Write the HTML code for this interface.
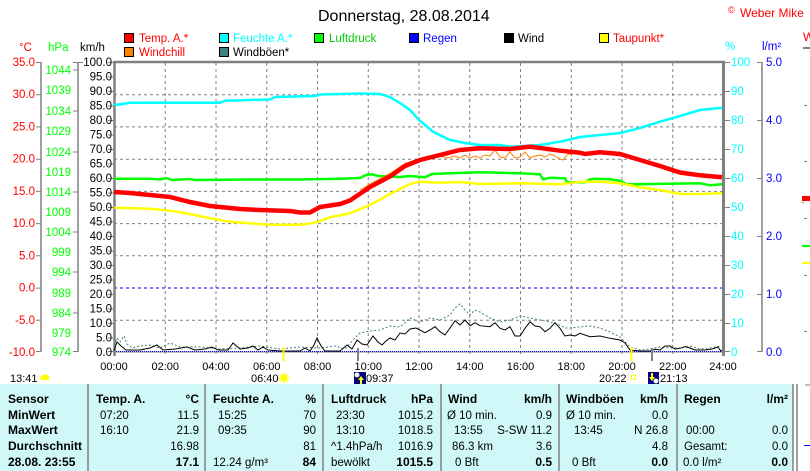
<!DOCTYPE html>
<html><head><meta charset="utf-8">
<style>
html,body{margin:0;padding:0;background:#fff;}
svg{display:block;font-family:"Liberation Sans",Arial,sans-serif;}
</style></head>
<body>
<svg width="810" height="471" viewBox="0 0 810 471" xmlns="http://www.w3.org/2000/svg">
<rect width="810" height="471" fill="#fff"/>
<!-- Title -->
<text x="318" y="21" font-size="16" fill="#000">Donnerstag, 28.08.2014</text>
<text x="728" y="13" font-size="9" fill="#f00">©</text>
<text x="740" y="17" font-size="12" fill="#f00">Weber Mike</text>

<!-- Legend -->
<g font-size="11.5">
<rect x="124.5" y="33.5" width="9" height="9" fill="#f00" stroke="#000"/><text x="139" y="42" fill="#f00">Temp. A.*</text>
<rect x="219.5" y="33.5" width="9" height="9" fill="#0ff" stroke="#000"/><text x="233" y="42" fill="#0ff">Feuchte A.*</text>
<rect x="314.5" y="33.5" width="9" height="9" fill="#0f0" stroke="#000"/><text x="329" y="42" fill="#0c0">Luftdruck</text>
<rect x="409.5" y="33.5" width="9" height="9" fill="#00f" stroke="#000"/><text x="423" y="42" fill="#00f">Regen</text>
<rect x="504.5" y="33.5" width="9" height="9" fill="#000" stroke="#000"/><text x="518" y="42" fill="#000">Wind</text>
<rect x="599.5" y="33.5" width="9" height="9" fill="#ff0" stroke="#000"/><text x="613" y="42" fill="#f00">Taupunkt*</text>
<rect x="124.5" y="47.5" width="9" height="9" fill="#ff8000" stroke="#000"/><text x="139" y="56" fill="#f00">Windchill</text>
<rect x="219.5" y="47.5" width="9" height="9" fill="#408080" stroke="#000"/><text x="233" y="56" fill="#000">Windböen*</text>
</g>

<!-- axis unit labels -->
<g font-size="11.5">
<text x="19" y="51" fill="#f00">°C</text>
<text x="48" y="51" fill="#0f0">hPa</text>
<text x="80" y="51" fill="#000">km/h</text>
<text x="725" y="50" fill="#0ff">%</text>
<text x="762" y="50" fill="#00f">l/m²</text>
</g>

<!-- Left axes -->
<g stroke="#808080" stroke-width="1.5" fill="none">
<line x1="41" y1="62" x2="41" y2="352"/>
<line x1="78" y1="62" x2="78" y2="352"/>
</g>
<g stroke="#808080" stroke-width="1">
<path d="M36 62.5H41M36 94.7H41M36 126.9H41M36 159.2H41M36 191.4H41M36 223.6H41M36 255.8H41M36 288.1H41M36 320.3H41M36 351.5H41"/>
<path d="M73 62.5H83M73 70H78M73 111H78M73 152H78M73 192H78M73 232H78M73 272H78M73 313H78M73 351.5H78"/>
<path d="M108 62.5H114M108 77H114M108 91.5H114M108 106H114M108 120.5H114M108 135H114M108 149.5H114M108 164H114M108 178.5H114M108 193H114M108 207.5H114M108 222H114M108 236.5H114M108 251H114M108 265.5H114M108 280H114M108 294.5H114M108 309H114M108 323.5H114M108 338H114M108 351.5H114"/>
</g>
<g font-size="11.5" fill="#f00" text-anchor="end">
<text x="35" y="66">35.0</text><text x="35" y="98.2">30.0</text><text x="35" y="130.4">25.0</text><text x="35" y="162.7">20.0</text><text x="35" y="194.9">15.0</text><text x="35" y="227.1">10.0</text><text x="35" y="259.3">5.0</text><text x="35" y="291.6">0.0</text><text x="35" y="323.8">-5.0</text><text x="35" y="356">-10.0</text>
</g>
<g font-size="11.5" fill="#0f0" text-anchor="end">
<text x="71" y="74">1044</text><text x="71" y="94">1039</text><text x="71" y="115">1034</text><text x="71" y="135">1029</text><text x="71" y="156">1024</text><text x="71" y="176">1019</text><text x="71" y="196">1014</text><text x="71" y="216">1009</text><text x="71" y="236">1004</text><text x="71" y="256">999</text><text x="71" y="276">994</text><text x="71" y="297">989</text><text x="71" y="317">984</text><text x="71" y="337">979</text><text x="71" y="356">974</text>
</g>
<g font-size="11.5" fill="#000" text-anchor="end">
<text x="112" y="66">100.0</text><text x="112" y="80.5">95.0</text><text x="112" y="95">90.0</text><text x="112" y="109.5">85.0</text><text x="112" y="124">80.0</text><text x="112" y="138.5">75.0</text><text x="112" y="153">70.0</text><text x="112" y="167.5">65.0</text><text x="112" y="182">60.0</text><text x="112" y="196.5">55.0</text><text x="112" y="211">50.0</text><text x="112" y="225.5">45.0</text><text x="112" y="240">40.0</text><text x="112" y="254.5">35.0</text><text x="112" y="269">30.0</text><text x="112" y="283.5">25.0</text><text x="112" y="298">20.0</text><text x="112" y="312.5">15.0</text><text x="112" y="327">10.0</text><text x="112" y="341.5">5.0</text><text x="112" y="356">0.0</text>
</g>

<!-- Right axes -->
<g stroke="#808080" stroke-width="1">
<path d="M724 62.5H730M724 91.5H730M724 120.5H730M724 149.5H730M724 178.5H730M724 207.5H730M724 236.5H730M724 265.5H730M724 294.5H730M724 323.5H730M724 351.5H730"/>
<path d="M757 62.5H762M757 120.5H762M757 178.5H762M757 236.5H762M757 294.5H762M757 351.5H762"/>
</g>
<line x1="762" y1="62" x2="762" y2="352" stroke="#808080" stroke-width="1.5"/>
<g font-size="11.5" fill="#0ff">
<text x="731" y="66">100</text><text x="731" y="95">90</text><text x="731" y="124">80</text><text x="731" y="153">70</text><text x="731" y="182">60</text><text x="731" y="211">50</text><text x="731" y="240">40</text><text x="731" y="269">30</text><text x="731" y="298">20</text><text x="731" y="327">10</text><text x="731" y="356">0</text>
</g>
<g font-size="11.5" fill="#00f">
<text x="766" y="66">5.0</text><text x="766" y="124">4.0</text><text x="766" y="182">3.0</text><text x="766" y="240">2.0</text><text x="766" y="298">1.0</text><text x="766" y="356">0.0</text>
</g>

<!-- Grid -->
<g stroke="#808080" stroke-width="1" stroke-dasharray="3,3" fill="none">
<path d="M114 94.7H722M114 126.9H722M114 159.2H722M114 191.4H722M114 223.6H722M114 255.8H722M114 320.3H722"/>
<path d="M165.25 63V356M216 63V356M266.75 63V356M317.5 63V356M368.25 63V356M419 63V356M469.75 63V356M520.5 63V356M571.25 63V356M622 63V356M672.75 63V356"/>
</g>
<line x1="114" y1="288" x2="722" y2="288" stroke="#0000ff" stroke-width="1" stroke-dasharray="3,3"/>

<!-- Frame -->
<line x1="114" y1="352" x2="723" y2="352" stroke="#808080" stroke-width="1"/>
<line x1="113" y1="62" x2="725" y2="62" stroke="#808080" stroke-width="2.5"/>
<line x1="114.5" y1="61" x2="114.5" y2="356" stroke="#808080" stroke-width="2.5"/>
<line x1="723.5" y1="61" x2="723.5" y2="356" stroke="#808080" stroke-width="3"/>
<line x1="116" y1="351.5" x2="722" y2="351.5" stroke="#0000ff" stroke-width="1" stroke-dasharray="1,1"/>

<!-- Series -->
<polyline fill="none" stroke="#408080" stroke-width="1" stroke-dasharray="2,2" points="114,345 117,338 120,342 124,336 127,344 132,348 140,346 150,345 160,348 170,343 180,347 200,347 220,349 240,348 260,346 280,349 300,347 320,348 335,346 345,349 355,338 360,333 370,331 380,330 390,326 400,327 410,318 420,322 430,318 440,320 450,315 455,308 460,304 465,310 470,315 475,310 480,312 490,318 500,322 510,320 520,316 530,318 540,320 550,322 560,325 565,328 570,328 580,327 590,326 600,328 610,332 620,337 625,342 630,347 640,350 650,349 660,347 670,348 680,348 690,346 700,349 710,348 720,346"/>
<polyline fill="none" stroke="#000" stroke-width="1" points="114,351 117,342 121,346 126,350 140,350 150,348 157,345 163,350 175,349 187,347 195,350 205,349 212,347 218,350 228,350 233,343 240,349 248,348 253,346 258,350 263,347 268,350 280,351 300,351 305,348 310,351 314,345 317,338 321,346 325,351 340,351 347,345 352,349 357,340 362,344 367,345 373,336 378,342 382,345 386,341 390,338 395,340 400,333 405,334 410,329 416,328 425,332.7 430,330 435,326.7 440,331.7 445,335 450,328 455,320.7 460,325 465,320 470,325.7 475,322.7 480,325.7 490,326.7 495,322.7 500,328.3 505,330 510,326.7 515,336 520,336 525,328.3 530,321.7 535,326 540,326.7 545,331.7 550,328.3 555,322.7 560,328.3 565,336 570,335 575,336 580,333.3 590,336.7 600,336 610,338.3 620,340 625,343 630,350 640,351 650,351 655,349.3 660,350 665,346 670,346 675,349 680,348.3 685,346.7 690,348 695,350 705,350 712,349 718,347 720,350 722,351"/>
<polyline fill="none" stroke="#00ffff" stroke-width="2.5" points="114,105 123,104 130,102.7 220,102.7 225,100.7 270,99.5 275,97 315,96 320,94.5 360,93.5 380,94 390,97 400,103 410,110 419,120 433,131.7 450,140 465,143 480,145 500,145 510,146.7 540,145 560,141.7 580,137 620,133 640,128 660,121.7 680,116 700,110 722,107.7"/>
<polyline fill="none" stroke="#00ff00" stroke-width="2.5" points="114,178.7 150,178.7 160,179.5 166,178 172,180 190,179 195,180 250,179.5 300,179.5 340,178.7 360,178 366,175 372,174.3 378,176 400,177 410,176 425,177.3 432,174 450,173.3 480,172.3 520,173.3 540,174.3 543,179.3 550,177.7 565,178.3 567,182.3 585,182.3 590,179.3 595,178.7 610,179.3 620,180.7 627,184.3 700,183.3 710,185.3 722,184.3"/>
<polyline fill="none" stroke="#ffff00" stroke-width="2.5" points="114,207.7 150,208.7 170,210.7 190,214 210,218.3 230,221.7 250,223.3 270,224.7 300,224.7 315,222.7 330,217.3 350,213.3 370,205 390,194 410,184 420,181.7 440,182.7 460,182 480,184 520,183.3 560,184.3 580,181.7 600,181.7 620,183.3 640,187.3 660,190 680,194 700,194 722,193.3"/>
<polyline fill="none" stroke="#ff8000" stroke-width="1" points="360,190 370,184 390,173.5 405,163.5 420,158.5 440,156 447,158 455,156 460,158 465,155 470,158 475,156 480,158 485,155 490,156 495,150 500,157 505,158 510,152 515,158 520,157 525,152 530,158 535,156 540,155 545,157 550,154 555,156 560,159 563,160 567,155 572,153 580,154"/>
<polyline fill="none" stroke="#ff0000" stroke-width="4.5" points="114,192 130,193 150,195 170,197 190,202 210,206 240,209 260,210 290,211 300,212.5 310,212.5 320,207 340,204 350,200.5 370,187 390,176.5 405,166 420,160 440,155 460,150 480,148.3 510,149 530,146.7 560,150.7 580,152.7 585,154 600,152.3 620,154 640,160 660,166 680,172.5 700,175.3 722,177.3"/>

<!-- bottom markers -->
<line x1="283.5" y1="347" x2="283.5" y2="361" stroke="#ffff00" stroke-width="2"/>
<line x1="631.5" y1="347" x2="631.5" y2="361" stroke="#ffff00" stroke-width="2"/>
<line x1="358" y1="348" x2="358" y2="361" stroke="#808080" stroke-width="2"/>
<line x1="652" y1="348" x2="652" y2="361" stroke="#808080" stroke-width="2"/>

<!-- X labels -->
<g font-size="11" fill="#000" text-anchor="middle">
<text x="114" y="370">00:00</text><text x="165.25" y="370">02:00</text><text x="216" y="370">04:00</text><text x="266.75" y="370">06:00</text><text x="317.5" y="370">08:00</text><text x="368.25" y="370">10:00</text><text x="419" y="370">12:00</text><text x="469.75" y="370">14:00</text><text x="520.5" y="370">16:00</text><text x="571.25" y="370">18:00</text><text x="622" y="370">20:00</text><text x="672.75" y="370">22:00</text><text x="723" y="370">24:00</text>
</g>
<g font-size="11" fill="#000">
<text x="10" y="382">13:41</text>
<text x="251" y="382">06:40</text>
<text x="366" y="382">09:37</text>
<text x="599" y="382">20:22</text>
<text x="660" y="382">21:13</text>
</g>
<!-- icons -->
<path d="M40 380 Q40 375 44 375 Q45 373 47 375 Q50 376 49 380 Z" fill="#ffff00"/>
<g stroke="#ffff00" stroke-width="1"><path d="M284 372V384M278 378H290M280 374L288 382M288 374L280 382"/></g>
<circle cx="284" cy="378" r="3.5" fill="#ffff00"/>
<rect x="354" y="372" width="12" height="12" fill="#000080"/>
<circle cx="357" cy="375" r="2.5" fill="#fff"/>
<path d="M361 376L364 380H362V384H360V380H358Z" fill="#ffff00"/>
<rect x="631.5" y="375.5" width="4" height="4" fill="none" stroke="#ffff00"/>
<rect x="648" y="372" width="11" height="12" fill="#000080"/>
<path d="M652 381L649 377H651V373H653V377H655Z" fill="#ffff00"/>
<circle cx="656" cy="381" r="2.5" fill="#fff"/>

<!-- far right partial -->
<text x="803" y="41" font-size="12" fill="#f00">W</text>
<line x1="803" y1="48" x2="810" y2="48" stroke="#808080" stroke-width="2"/>
<g stroke="#808080" stroke-width="1"><path d="M804 105.5H807M804 161.5H807M804 218.5H807M804 275.5H807M804 331.5H807"/></g>
<rect x="802" y="196" width="8" height="5" fill="#f00"/>
<line x1="802" y1="202" x2="804" y2="203" stroke="#ff8000"/>
<rect x="802" y="245" width="8" height="2" fill="#0f0"/>
<rect x="802" y="262" width="8" height="2" fill="#ff0"/>

<!-- Table -->
<rect x="0" y="384" width="793" height="87" fill="#d0f8f8"/>
<g stroke="#808080" stroke-width="1.5">
<line x1="88" y1="384" x2="88" y2="471"/><line x1="205" y1="384" x2="205" y2="471"/><line x1="323" y1="384" x2="323" y2="471"/><line x1="441" y1="384" x2="441" y2="471"/><line x1="559" y1="384" x2="559" y2="471"/><line x1="677" y1="384" x2="677" y2="471"/><line x1="793" y1="384" x2="793" y2="471"/><line x1="797" y1="384" x2="797" y2="471"/>
</g>
<line x1="805" y1="385" x2="810" y2="385" stroke="#808080"/>
<line x1="804" y1="445.5" x2="810" y2="445.5" stroke="#00f"/>

<g font-size="12" font-weight="bold" fill="#000">
<text x="8" y="403">Sensor</text>
<text x="8" y="419">MinWert</text>
<text x="8" y="434">MaxWert</text>
<text x="8" y="450">Durchschnitt</text>
<text x="8" y="466">28.08. 23:55</text>
<text x="96" y="403">Temp. A.</text>
<text x="213" y="403">Feuchte A.</text>
<text x="331" y="403">Luftdruck</text>
<text x="448" y="403">Wind</text>
<text x="566" y="403">Windböen</text>
<text x="684" y="403">Regen</text>
</g>
<g font-size="12" font-weight="bold" fill="#000" text-anchor="end">
<text x="199" y="403">°C</text><text x="316" y="403">%</text><text x="433" y="403">hPa</text><text x="552" y="403">km/h</text><text x="668" y="403">km/h</text><text x="788" y="403">l/m²</text>
<text x="199" y="466">17.1</text><text x="316" y="466">84</text><text x="433" y="466">1015.5</text><text x="552" y="466">0.5</text><text x="668" y="466">0.0</text><text x="788" y="466">0.0</text>
</g>
<g font-size="11.5" fill="#000">
<text x="100" y="419">07:20</text><text x="100" y="434">16:10</text>
<text x="218" y="419">15:25</text><text x="218" y="434">09:35</text><text x="213" y="466">12.24 g/m³</text>
<text x="336" y="419">23:30</text><text x="336" y="434">13:10</text><text x="331" y="450">^1.4hPa/h</text><text x="331" y="466">bewölkt</text>
<text x="447" y="419">Ø 10 min.</text><text x="454" y="434">13:55</text><text x="452" y="450">86.3 km</text><text x="455" y="466">0 Bft</text>
<text x="566" y="419">Ø 10 min.</text><text x="574" y="434">13:45</text><text x="572" y="466">0 Bft</text>
<text x="686" y="434">00:00</text><text x="684" y="450">Gesamt:</text><text x="683" y="466">0.0 l/m²</text>
</g>
<g font-size="11.5" fill="#000" text-anchor="end">
<text x="199" y="419">11.5</text><text x="199" y="434">21.9</text><text x="199" y="450">16.98</text>
<text x="316" y="419">70</text><text x="316" y="434">90</text><text x="316" y="450">81</text>
<text x="433" y="419">1015.2</text><text x="433" y="434">1018.5</text><text x="433" y="450">1016.9</text>
<text x="552" y="419">0.9</text><text x="552" y="434">S-SW 11.2</text><text x="552" y="450">3.6</text>
<text x="668" y="419">0.0</text><text x="668" y="434">N 26.8</text><text x="668" y="450">4.8</text>
<text x="788" y="434">0.0</text><text x="788" y="450">0.0</text>
</g>
</svg>
</body></html>
